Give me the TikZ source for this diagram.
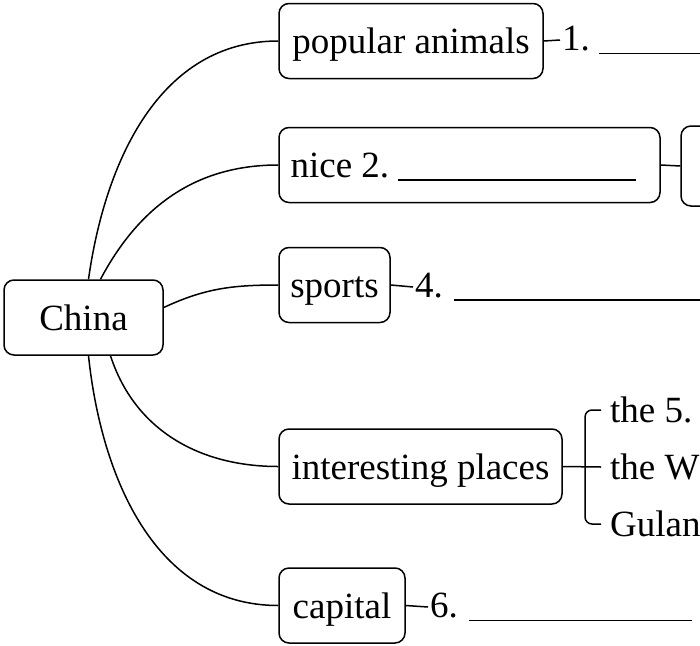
\documentclass[tikz,border=0pt]{standalone}
\usepackage{fontspec}
\setmainfont{Liberation Serif}
\usetikzlibrary{positioning}

\begin{document}
\begin{tikzpicture}[x=1pt, y=1pt, every node/.style={font=\fontsize{37}{40}\selectfont}]
\tikzset{
  box/.style={draw, rounded corners=10pt, line width=1.5pt, minimum height=75pt, inner sep=0pt,
    text height=26pt, text depth=1pt, align=center},
  blank/.style={anchor=west, inner sep=2pt},
  link/.style={line width=1.5pt}
}
\useasboundingbox (0,0) rectangle (700,-645);
\clip (0,0) rectangle (700,-645);

% Nodes
\node[box, minimum width=159pt] (china) at (83.5,-317.5) {China};
\node[box, minimum width=264pt] (animals) at (411,-41) {popular animals};
\node[box, minimum width=381pt] (nice) at (469.5,-165) {nice\ 2.\ \rule[-3pt]{238pt}{1.2pt}\hspace{12pt}};
\node[box, minimum width=80pt, minimum height=80pt] (more) at (721,-166) {};
\node[box, minimum width=111pt] (sports) at (334.5,-285) {sports};
\node[box, minimum width=283pt] (places) at (420.5,-466.5) {interesting places};
\node[box, minimum width=126pt] (capital) at (342,-605.5) {capital};

\node[blank] (ans1) at (560,-40) {1.\hspace{9pt}\rule[-3pt]{110pt}{1.2pt}};
\node[blank] (ans4) at (413,-287) {4.\hspace{11pt}\rule[-3pt]{250pt}{1.2pt}};
\node[blank] (ans6) at (428,-607) {6.\hspace{11pt}\rule[-3pt]{223pt}{1.2pt}};

\node[blank, inner xsep=9pt] (pl1) at (601,-410) {the 5.};
\node[blank, inner xsep=9pt] (pl2) at (601,-467) {the W};
\node[blank, inner xsep=9pt] (pl3) at (601,-524) {Gulan};

% Arrows
\draw[link] ([xshift=5pt]china.north) to[out=82, in=180] (animals.west);
\draw[link] ([xshift=17pt]china.north) to[out=62, in=180] (nice.west);
\draw[link] ([yshift=10pt]china.east) to[out=25, in=180] (sports.west);
\draw[link] ([xshift=27pt]china.south) to[out=-72, in=180] (places.west);
\draw[link] ([xshift=5pt]china.south) to[out=-84, in=180] (capital.west);

\draw[link] (animals.east) -- (ans1.west);
\draw[link] (nice.east) -- (more.west);
\draw[link] (sports.east) -- (ans4.west);
\draw[link] (capital.east) -- (ans6.west);
\draw[link] (places.east) -- (pl2.west);
\draw[link, rounded corners=7pt] (pl1.west) -| ([xshift=-16pt]pl2.west) |- (pl3.west);
\end{tikzpicture}
\end{document}
